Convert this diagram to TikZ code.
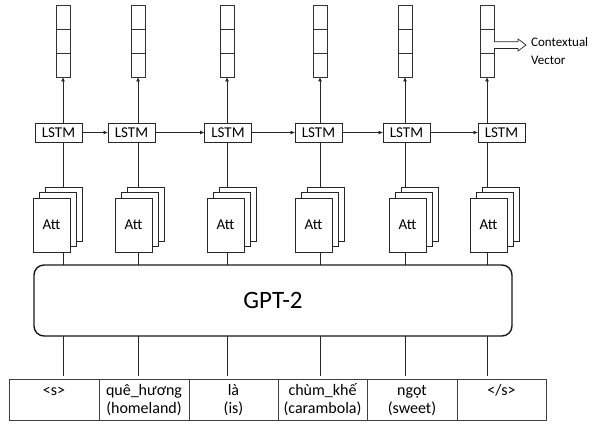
\documentclass[tikz,border=0pt]{standalone}
\usepackage{fontspec}
\setmainfont{Carlito}
\usetikzlibrary{arrows.meta,calc}
\begin{document}
\begin{tikzpicture}[x=1pt,y=-1pt,
  vec/.style={draw=black!80, line width=0.8pt, minimum width=14pt, minimum height=72pt, inner sep=0pt, outer sep=0pt, fill=white},
  vecline/.style={draw=black!80, line width=0.8pt},
  lstm/.style={draw=black!85, line width=0.8pt, minimum width=47pt, minimum height=19pt, inner sep=0pt, outer sep=0pt, font=\fontsize{15}{17}\selectfont},
  attbox/.style={draw=black!85, line width=0.8pt, fill=white, minimum width=37pt, minimum height=54pt, inner sep=0pt, outer sep=0pt, font=\fontsize{15}{17}\selectfont},
  conn/.style={line width=0.8pt, draw=black!85},
  arr/.style={conn, -{Latex[length=4.5pt,width=4pt]}},
  cell/.style={draw=black!75, line width=0.8pt, minimum height=41pt, inner sep=0pt, outer sep=0pt},
  word/.style={anchor=base, inner sep=0pt, font=\fontsize{16}{18}\selectfont},
  gpt/.style={draw=black!90, line width=1.4pt, rounded corners=10pt, minimum width=478pt, minimum height=71pt, inner sep=0pt, outer sep=0pt, font=\fontsize{25}{30}\selectfont}
]
\useasboundingbox (0,0) rectangle (597,428);

% GPT-2 block
\node[gpt] (g) at (273,300.5) {GPT-2};

\foreach \i/\vx/\lx/\ax in {1/63/58.5/51.5, 2/138/131.5/133.5, 3/227/228/225.5, 4/320/318.5/313.5, 5/405/406.5/407.5, 6/487/501.5/488.5}{
  % output vector
  \node[vec] (v\i) at (\vx,41) {};
  \draw[vecline] ($(v\i.north west)!1/3!(v\i.south west)$) -- ($(v\i.north east)!1/3!(v\i.south east)$);
  \draw[vecline] ($(v\i.north west)!2/3!(v\i.south west)$) -- ($(v\i.north east)!2/3!(v\i.south east)$);
  % LSTM
  \node[lstm] (l\i) at (\lx,132.5) {LSTM};
  % attention stack
  \node[attbox] (ab\i) at ($(\ax,225)+(12,-11)$) {};
  \node[attbox] (am\i) at ($(\ax,225)+(6,-5.5)$) {};
  \node[attbox] (a\i) at (\ax,225) {Att};
  \coordinate (e\i) at (\vx,376);
  % connectors
  \draw[arr] (v\i.south |- l\i.north) -- (v\i.south);
  \draw[conn] (v\i.south |- l\i.south) -- (v\i.south |- ab\i.north);
  \draw[conn] (v\i.south |- a\i.south) -- (v\i.south |- g.north);
  \draw[conn] (v\i.south |- g.south) -- (e\i);
}

\foreach \i/\j in {1/2,2/3,3/4,4/5,5/6}{
  \draw[arr] (l\i.east) -- (l\j.west);
}

% table of input tokens
\node[cell, minimum width=90pt] (t1) at (54,399.5) {};
\node[cell, minimum width=90pt] (t2) at (144,399.5) {};
\node[cell, minimum width=89pt] (t3) at (233.5,399.5) {};
\node[cell, minimum width=89pt] (t4) at (322.5,399.5) {};
\node[cell, minimum width=90pt] (t5) at (412,399.5) {};
\node[cell, minimum width=89pt] (t6) at (501.5,399.5) {};

\node[word] (w1a) at (54,395.5) {<s>};
\node[word] (w2a) at (144,395.5) {quê\_hương};
\node[word] (w2b) at (144,413.3) {(homeland)};
\node[word] (w3a) at (233.5,395.5) {là};
\node[word] (w3b) at (233.5,413.3) {(is)};
\node[word] (w4a) at (322.5,395.5) {chùm\_khế};
\node[word] (w4b) at (322.5,413.3) {(carambola)};
\node[word] (w5a) at (412,395.5) {ngọt};
\node[word] (w5b) at (412,413.3) {(sweet)};
\node[word] (w6a) at (501.5,395.5) {</s>};

% contextual vector label
\node[anchor=base west, inner sep=0pt, font=\fontsize{13}{18}\selectfont] (cv1) at (531,47) {Contextual};
\node[anchor=base west, inner sep=0pt, font=\fontsize{13}{18}\selectfont] (cv2) at (531,65) {Vector};
\draw[conn, line width=0.7pt, fill=white, line join=miter]
  ($(v6.east)+(0,0.7)$) -- ++(24,0) -- ++(0,-2.7) -- ++(8,6) -- ++(-8,6) -- ++(0,-2.5) -- ++(-24,0);
\end{tikzpicture}
\end{document}
